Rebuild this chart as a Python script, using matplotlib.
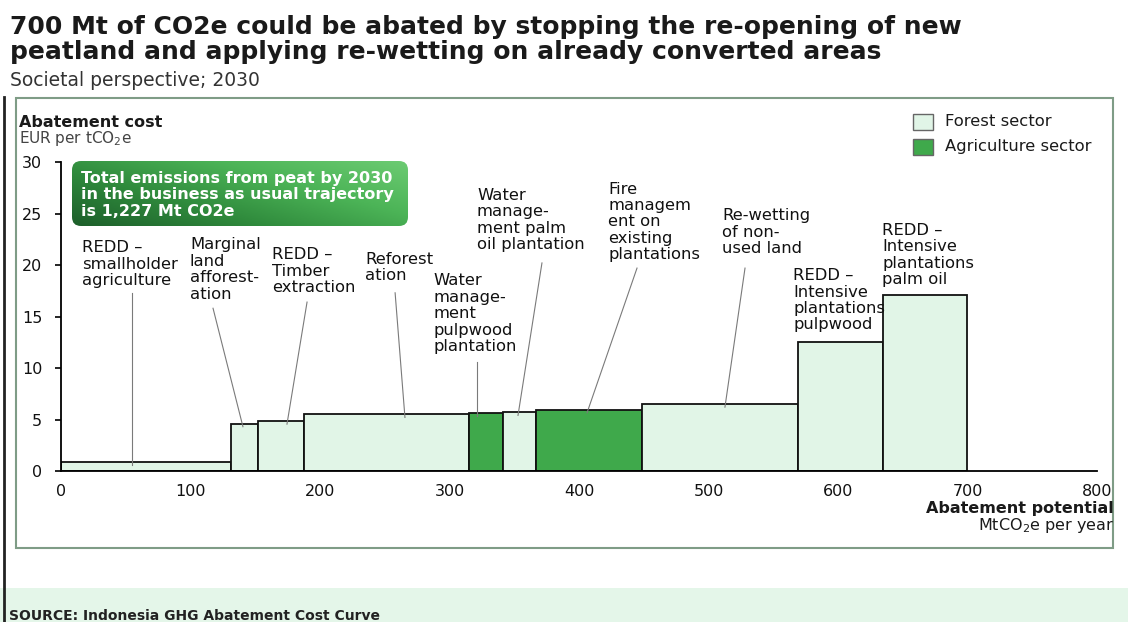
import matplotlib
matplotlib.use("Agg")
import matplotlib.pyplot as plt
import numpy as np
from matplotlib.patches import Rectangle, FancyBboxPatch
from matplotlib.lines import Line2D

# abatement levers, in curve order
levers = [
    "REDD \u2013\nsmallholder\nagriculture",
    "Marginal\nland\nafforest-\nation",
    "REDD \u2013\nTimber\nextraction",
    "Reforest\nation",
    "Water\nmanage-\nment\npulpwood\nplantation",
    "Water\nmanage-\nment palm\noil plantation",
    "Fire\nmanagem\nent on\nexisting\nplantations",
    "Re-wetting\nof non-\nused land",
    "REDD \u2013\nIntensive\nplantations\npulpwood",
    "REDD \u2013\nIntensive\nplantations\npalm oil",
]
potential = [131, 21, 36, 127, 26, 26, 82, 120, 66, 65]  # MtCO2e per year
cost = [0.85, 4.6, 4.85, 5.5, 5.65, 5.7, 5.95, 6.5, 12.55, 17.1]  # EUR per tCO2e
sector = ["Forest", "Forest", "Forest", "Forest", "Agriculture",
          "Forest", "Agriculture", "Forest", "Forest", "Forest"]

x_ticks = [0, 100, 200, 300, 400, 500, 600, 700, 800]
y_ticks = [0, 5, 10, 15, 20, 25, 30]

# label anchor (left, top) and leader line (start, end x) in data units
label_pos = [(16.2, 22.4), (99.6, 22.7), (163, 21.7), (234.7, 21.3),
             (287.3, 19.2), (321.2, 27.5), (422.4, 28.1), (510.4, 25.5),
             (565.3, 19.7), (634, 24.1)]
leaders = [(54.8, 17.3, 54.8), (117.4, 15.8, 140.5), (190, 16.4, 174.5),
           (258, 17.3, 265.6), (321.2, 10.6, 321.2), (371.4, 20.2, 352.9),
           (444.8, 19.7, 406.2), (528.2, 19.7, 512.7), None, None]

colors = {"Forest": "#e1f5e7", "Agriculture": "#3fa94b"}

W, H = 1128, 622


def px(x, y):
    return x / W, 1 - y / H


plt.rcParams["font.family"] = ["DejaVu Sans"]
plt.rcParams["mathtext.default"] = "regular"

fig = plt.figure(figsize=(W / 100, H / 100), dpi=100)

# panel frame, scan edge and bottom band
fig.patches.append(Rectangle(px(16, 548), 1097 / W, 450 / H, transform=fig.transFigure,
                             fill=False, edgecolor="#7f9c86", linewidth=1.5))
fig.lines.append(Line2D([4 / W, 4 / W], [1 - 97 / H, 0], transform=fig.transFigure,
                        color="#222222", linewidth=2))
fig.patches.append(Rectangle(px(0, 622), 1, 34 / H, transform=fig.transFigure,
                             facecolor="#e4f6e9", edgecolor="none", zorder=-1))

# titles
fig.text(*px(10, 34), "700 Mt of CO2e could be abated by stopping the re-opening of new",
         fontsize=18, fontweight="bold", color="#1a1a1a", va="baseline")
fig.text(*px(10, 59), "peatland and applying re-wetting on already converted areas",
         fontsize=18, fontweight="bold", color="#1a1a1a", va="baseline")
fig.text(*px(10, 86), "Societal perspective; 2030", fontsize=13.5, color="#333333", va="baseline")
fig.text(*px(9, 620), "SOURCE: Indonesia GHG Abatement Cost Curve", fontsize=10,
         fontweight="bold", color="#222222", va="baseline")

ax = fig.add_axes([61 / W, 1 - 471 / H, 1036 / W, 309 / H])
ax.set_xlim(0, 800)
ax.set_ylim(0, 30)
ax.patch.set_alpha(0)

lefts = np.concatenate([[0], np.cumsum(potential)[:-1]])
ax.bar(lefts, cost, width=potential, align="edge",
       color=[colors[s] for s in sector], edgecolor="#111111", linewidth=1.3, zorder=2)

for name, (lx, ly), ld, c in zip(levers, label_pos, leaders, cost):
    ax.text(lx, ly, name, ha="left", va="top", fontsize=11.8, color="#111111",
            linespacing=1.12)
    if ld is not None:
        ax.plot([ld[0], ld[2]], [ld[1], c - 0.3], color="#7a7a7a", linewidth=0.8, zorder=3)

for side in ["top", "right"]:
    ax.spines[side].set_visible(False)
ax.spines["left"].set_linewidth(1.3)
ax.spines["bottom"].set_linewidth(1.3)
ax.set_xticks(x_ticks)
ax.set_yticks(y_ticks)
ax.tick_params(axis="x", length=0, pad=9, labelsize=11.5, labelcolor="#111111")
ax.tick_params(axis="y", length=4.5, width=1.2, pad=9, labelsize=11.5, labelcolor="#111111")

# axis titles
fig.text(*px(19, 127), "Abatement cost", fontsize=11.5, fontweight="bold", color="#1a1a1a")
fig.text(*px(19, 143), "EUR per tCO$_2$e", fontsize=11, color="#444444")
fig.text(*px(1114, 513), "Abatement potential", fontsize=11.5, fontweight="bold",
         color="#1a1a1a", ha="right")
fig.text(*px(1114, 530), "MtCO$_2$e per year", fontsize=11.5, color="#1a1a1a", ha="right")

# legend
for i, (s, label) in enumerate([("Forest", "Forest sector"), ("Agriculture", "Agriculture sector")]):
    y0 = 114 + i * 25
    fig.patches.append(Rectangle(px(913, y0 + 16), 20 / W, 16 / H, transform=fig.transFigure,
                                 facecolor=colors[s], edgecolor="#666666", linewidth=1))
    fig.text(*px(945, y0 + 8), label, fontsize=11.8, color="#1a1a1a", va="center")

# callout box with gradient
cax = fig.add_axes([72 / W, 1 - 226 / H, 336 / W, 65 / H])
cax.set_xlim(0, 336)
cax.set_ylim(0, 65)
cax.axis("off")
gx = np.linspace(0, 1, 200)
gy = np.linspace(0, 1, 40)
grad = 0.6 * gx[None, :] + 0.4 * gy[:, None]
cmap = matplotlib.colors.LinearSegmentedColormap.from_list(
    "callout", ["#1d5f2b", "#2f8a3c", "#4cb457", "#6ccb72"])
img = cax.imshow(grad, extent=(0, 336, 0, 65), origin="lower", cmap=cmap, aspect="auto")
box = FancyBboxPatch((0, 0), 336, 65, boxstyle="round,pad=0,rounding_size=9",
                     facecolor="none", edgecolor="none")
cax.add_patch(box)
img.set_clip_path(box)
fig.text(*px(81, 195), "Total emissions from peat by 2030\nin the business as usual trajectory\nis 1,227 Mt CO2e",
         fontsize=11.5, fontweight="bold", color="white", va="center", linespacing=1.1)

fig.savefig("out.png", dpi=100)
